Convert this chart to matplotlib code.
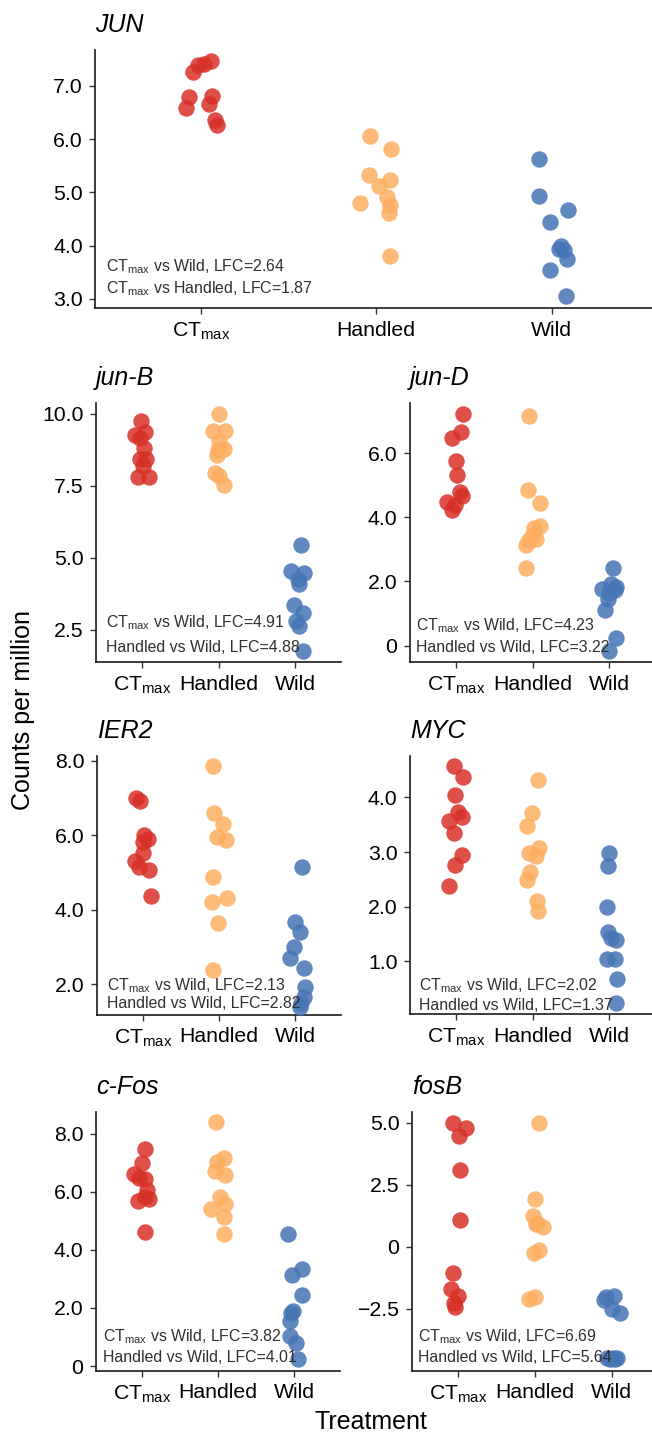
import numpy as np
import matplotlib.pyplot as plt
from matplotlib.ticker import FuncFormatter

plt.rcParams['font.family'] = ['Liberation Sans', 'DejaVu Sans']
plt.rcParams['mathtext.fontset'] = 'custom'
plt.rcParams['mathtext.rm'] = 'Liberation Sans'
plt.rcParams['mathtext.it'] = 'Liberation Sans:italic'
plt.rcParams['mathtext.default'] = 'regular'

# data: log2 counts per million
genes = ['JUN', 'jun-B', 'jun-D', 'IER2', 'MYC', 'c-Fos', 'fosB']
groups = ['CT$_{max}$', 'Handled', 'Wild']
colors = ['#d73027', '#fdae61', '#4575b4']

jun_cpm = [[7.46, 7.40, 7.39, 7.26, 6.79, 6.81, 6.58, 6.66, 6.36, 6.26],
           [6.06, 5.82, 5.33, 5.23, 5.12, 4.92, 4.77, 4.62, 4.80, 3.81],
           [5.62, 4.94, 4.67, 4.44, 3.99, 3.94, 3.92, 3.75, 3.54, 3.05]]
junb_cpm = [[9.77, 9.28, 9.17, 9.37, 8.82, 8.45, 8.45, 8.18, 7.81, 7.81],
            [10.0, 9.40, 9.42, 9.05, 8.78, 8.76, 8.59, 7.95, 7.83, 7.54],
            [5.43, 4.53, 4.46, 4.26, 4.10, 3.35, 3.08, 2.79, 2.62, 1.77]]
jund_cpm = [[7.22, 6.65, 6.47, 5.74, 5.32, 4.78, 4.65, 4.48, 4.37, 4.22],
            [7.17, 4.84, 4.44, 3.72, 3.67, 3.33, 3.30, 3.13, 2.41, 3.41],
            [2.42, 1.78, 1.93, 1.83, 1.64, 1.45, 1.10, 0.23, -0.18, 1.74]]
ier2_cpm = [[7.00, 6.93, 6.01, 5.90, 5.81, 5.54, 5.30, 5.16, 5.07, 4.38],
            [7.85, 6.59, 6.30, 5.95, 5.88, 4.88, 4.31, 4.22, 3.66, 2.39],
            [5.16, 3.67, 3.42, 3.00, 2.70, 2.45, 1.92, 1.67, 1.51, 1.40]]
myc_cpm = [[4.57, 4.37, 4.05, 3.74, 3.65, 3.56, 3.35, 2.95, 2.77, 2.38],
           [4.32, 3.71, 3.48, 3.07, 2.99, 2.93, 2.63, 2.49, 2.11, 1.92],
           [2.98, 2.75, 2.00, 1.53, 1.39, 1.42, 1.04, 1.04, 0.68, 0.24]]
cfos_cpm = [[7.48, 6.99, 6.60, 6.48, 6.42, 6.05, 5.74, 5.82, 5.68, 4.62],
            [8.38, 7.17, 7.03, 6.70, 6.57, 5.82, 5.59, 5.39, 5.13, 4.54],
            [4.54, 3.34, 3.13, 2.44, 1.90, 1.81, 1.56, 1.04, 0.81, 0.24]]
fosb_cpm = [[5.00, 4.80, 4.48, 3.12, 1.10, -1.05, -1.72, -1.99, -2.26, -2.42],
            [5.01, 1.92, 1.24, 0.91, 0.81, -0.11, -0.24, -2.04, -2.11, 0.95],
            [-2.04, -1.99, -2.15, -2.49, -2.65, -4.50, -4.50, -4.50, -4.54, -4.54]]

# horizontal jitter of each point (category units)
jun_dx = [[0.057, 0.017, -0.017, -0.047, -0.066, 0.064, -0.085, 0.047, 0.083, 0.095],
          [-0.033, 0.083, -0.040, 0.076, 0.017, 0.059, 0.078, 0.073, -0.090, 0.078],
          [-0.071, -0.071, 0.090, -0.009, 0.055, 0.043, 0.071, 0.085, -0.009, 0.083]]
junb_dx = [[-0.013, -0.087, -0.030, 0.043, 0.030, -0.030, 0.052, 0.013, -0.057, 0.096],
           [0.0, -0.074, 0.091, 0.013, 0.078, -0.009, -0.022, -0.052, 0.004, 0.070],
           [0.078, -0.052, 0.117, 0.035, 0.057, -0.009, 0.109, 0.009, 0.052, 0.109]]
jund_dx = [[0.087, 0.065, -0.057, 0.0, 0.013, 0.052, 0.074, -0.122, -0.013, -0.048],
           [-0.043, -0.065, 0.096, 0.104, 0.017, 0.052, -0.048, -0.087, -0.087, -0.013],
           [0.052, -0.087, 0.030, 0.096, -0.004, -0.013, -0.057, 0.096, 0.0, 0.074]]
ier2_dx = [[-0.087, -0.035, 0.017, 0.074, 0.0, 0.0, -0.100, -0.044, 0.087, 0.105],
           [-0.074, -0.066, 0.048, -0.031, 0.092, -0.074, 0.100, -0.087, -0.009, -0.074],
           [0.087, -0.009, 0.066, -0.022, -0.066, 0.109, 0.131, 0.109, 0.074, 0.057]]
myc_dx = [[-0.022, 0.087, -0.013, 0.030, 0.074, -0.087, -0.026, 0.074, -0.013, -0.087],
          [0.074, -0.013, -0.078, 0.087, -0.043, 0.043, -0.035, -0.078, 0.061, 0.074],
          [0.0, -0.009, -0.026, -0.009, 0.096, 0.030, -0.026, 0.074, 0.104, 0.087]]
cfos_dx = [[0.043, 0.0, -0.096, -0.030, 0.043, 0.065, 0.096, 0.043, -0.043, 0.043],
           [-0.022, 0.074, -0.013, -0.043, 0.096, 0.022, 0.087, -0.087, 0.078, 0.078],
           [-0.078, 0.096, -0.035, 0.096, -0.013, -0.048, -0.057, -0.057, 0.022, 0.052]]
fosb_dx = [[-0.065, 0.100, 0.009, 0.030, 0.022, -0.065, -0.087, 0.0, -0.057, -0.043],
           [0.057, 0.0, -0.030, 0.013, 0.100, 0.057, -0.013, 0.0, -0.074, 0.02],
           [-0.074, 0.022, -0.100, 0.0, 0.100, -0.057, 0.013, 0.065, -0.022, 0.043]]

lfc_ctmax_wild = [2.64, 4.91, 4.23, 2.13, 2.02, 3.82, 6.69]
lfc_second = [1.87, 4.88, 3.22, 2.82, 1.37, 4.01, 5.64]
second_label = ['CT$_{max}$ vs Handled'] + ['Handled vs Wild'] * 6

yticks = [[3, 4, 5, 6, 7], [2.5, 5, 7.5, 10], [0, 2, 4, 6], [2, 4, 6, 8],
          [1, 2, 3, 4], [0, 2, 4, 6, 8], [-2.5, 0, 2.5, 5]]
ylims = [(2.83, 7.67), (1.38, 10.38), (-0.51, 7.56), (1.18, 8.13),
         (0.03, 4.76), (-0.17, 8.74), (-5.01, 5.44)]

all_cpm = [jun_cpm, junb_cpm, jund_cpm, ier2_cpm, myc_cpm, cfos_cpm, fosb_cpm]
all_dx = [jun_dx, junb_dx, jund_dx, ier2_dx, myc_dx, cfos_dx, fosb_dx]

# layout in pixels: left, top, right, bottom
W, H = 652, 1437
boxes = [(95.5, 50, 657, 308),
         (96, 403, 341, 662), (410, 403, 655, 662),
         (97, 756, 341, 1015), (410, 756, 655, 1014),
         (96, 1112, 340, 1371), (412, 1112, 658, 1371)]
# annotation line offsets in pixels from the axes lower-left corner
note_pos = [(11, 41, 19), (10, 39, 15), (6, 36, 14), (10, 29, 12),
            (9, 28, 9), (7, 34, 14), (6, 34, 13)]


def fmt(v, pos):
    if abs(v) < 1e-9:
        return '0'
    return f'{v:.1f}'.replace('-', '\u2212')


fig = plt.figure(figsize=(W / 100, H / 100), dpi=100)

for i, gene in enumerate(genes):
    l, t, r, b = boxes[i]
    ax = fig.add_axes([l / W, 1 - b / H, (r - l) / W, (b - t) / H])
    for g in range(3):
        x = g + 1 + np.array(all_dx[i][g])
        ax.scatter(x, all_cpm[i][g], s=140, color=colors[g], alpha=0.85,
                   linewidths=0, zorder=3)
    ax.set_xlim(0.4, 3.6)
    ax.set_ylim(*ylims[i])
    ax.set_xticks([1, 2, 3])
    ax.set_xticklabels(groups)
    ax.set_yticks(yticks[i])
    ax.yaxis.set_major_formatter(FuncFormatter(fmt))
    for s in ['top', 'right']:
        ax.spines[s].set_visible(False)
    for s in ['left', 'bottom']:
        ax.spines[s].set_color('#1a1a1a')
        ax.spines[s].set_linewidth(1.2)
    ax.tick_params(length=4, width=1, color='#333333', labelsize=15.3,
                   labelcolor='black')
    ax.tick_params(axis='x', pad=5)
    ax.tick_params(axis='y', pad=5)
    ax.annotate(gene, xy=(0, 1), xycoords='axes fraction', xytext=(0, 18),
                textcoords='offset pixels', ha='left', va='baseline',
                fontsize=18, style='italic')
    px, y1, y2 = note_pos[i]
    ax.annotate(f'CT$_{{max}}$ vs Wild, LFC={lfc_ctmax_wild[i]:.2f}',
                xy=(0, 0), xycoords='axes fraction', xytext=(px, y1),
                textcoords='offset pixels', ha='left', va='center',
                fontsize=11.4, color='#303030', zorder=5)
    ax.annotate(f'{second_label[i]}, LFC={lfc_second[i]:.2f}',
                xy=(0, 0), xycoords='axes fraction', xytext=(px, y2),
                textcoords='offset pixels', ha='left', va='center',
                fontsize=11.4, color='#303030', zorder=5)

fig.text(23 / W, 1 - 710 / H, 'Counts per million', rotation=90,
         ha='center', va='center', fontsize=18)
fig.text(371 / W, 1 - 1422 / H, 'Treatment', ha='center', va='center',
         fontsize=18)

fig.savefig('out.png', dpi=100)
